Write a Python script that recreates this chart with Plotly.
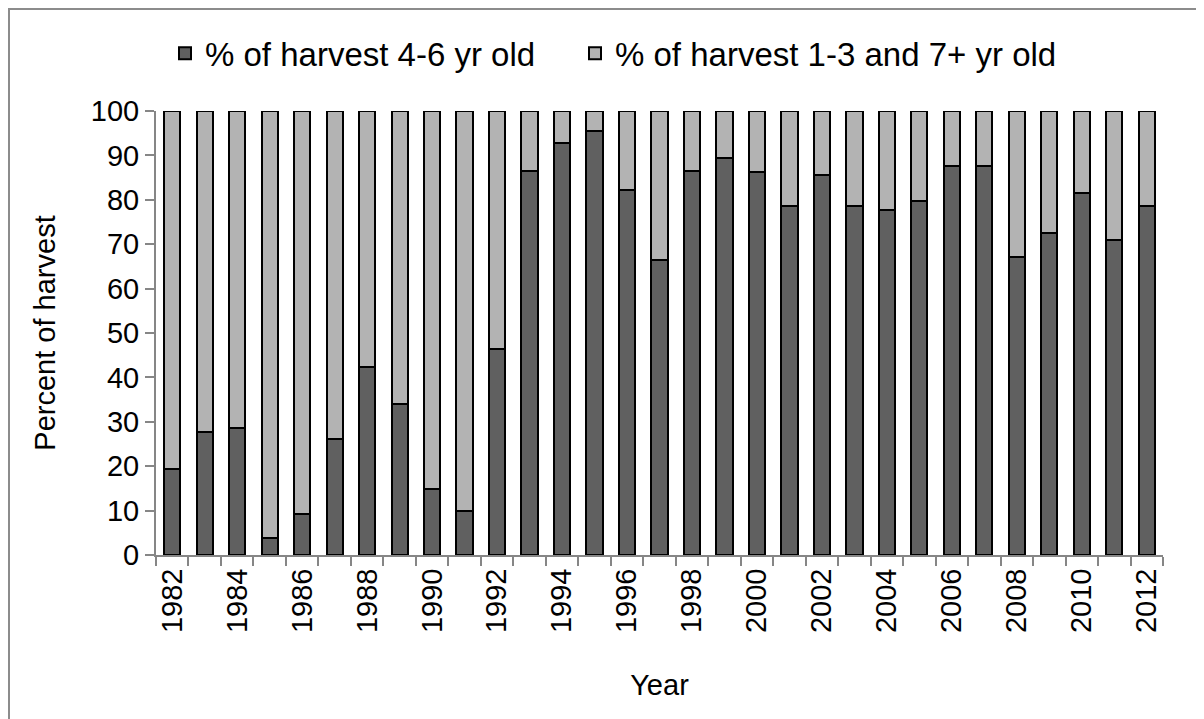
import plotly.graph_objects as go

years = list(range(1982, 2013))
pct_4_6 = [19.3, 27.7, 28.7, 3.8, 9.3, 26.1, 42.4, 34.0, 14.8, 9.8, 46.3,
           86.6, 92.8, 95.5, 82.3, 66.5, 86.6, 89.4, 86.2, 78.7, 85.6,
           78.7, 77.7, 79.8, 87.7, 87.7, 67.1, 72.6, 81.6, 71.0, 78.7]
pct_other = [round(100 - v, 1) for v in pct_4_6]
tick_years = [y for y in years if y % 2 == 0]

FONT = "Liberation Sans, Arial, sans-serif"
AXIS = "#868686"

W, H = 1196, 711
L, R, T, B = 148, 41, 103, 164
plot_w = W - L - R
plot_h = H - T - B

fig = go.Figure()
fig.add_trace(go.Bar(x=years, y=pct_4_6, name="% of harvest 4-6 yr old",
                     marker=dict(color="#606060", line=dict(color="black", width=2)),
                     width=0.5, legend="legend", showlegend=True))
fig.add_trace(go.Bar(x=years, y=pct_other, name="% of harvest 1-3 and 7+ yr old",
                     marker=dict(color="#b3b3b3", line=dict(color="black", width=2)),
                     width=0.5, legend="legend2", showlegend=True))

leg_common = dict(orientation="h", xanchor="left", y=1.13, yanchor="middle",
                  font=dict(size=33), itemwidth=30, bgcolor="rgba(0,0,0,0)",
                  visible=True)

fig.update_layout(
    barmode="stack",
    showlegend=True,
    width=W, height=H,
    margin=dict(l=L, r=R, t=T, b=B, autoexpand=False),
    paper_bgcolor="white", plot_bgcolor="white",
    font=dict(family=FONT, size=29, color="black"),
    legend=dict(x=(157 - L) / plot_w, **leg_common),
    legend2=dict(x=(567 - L) / plot_w, **leg_common),
    xaxis=dict(range=[1981.5, 2012.5], tickmode="array", tickvals=tick_years,
               ticktext=[str(y) for y in tick_years], tickangle=-90, ticks="",
               showline=True, linecolor=AXIS, linewidth=2, showgrid=False, zeroline=False,
               automargin=False,
               minor=dict(tickmode="linear", tick0=1981.5, dtick=1, ticks="outside",
                          ticklen=9, tickwidth=2, tickcolor=AXIS, showgrid=False),
               title=dict(text="Year", standoff=43, font=dict(size=29))),
    yaxis=dict(range=[0, 100], dtick=10, ticks="outside", ticklen=9, tickwidth=2,
               tickcolor=AXIS, showline=True, linecolor=AXIS, linewidth=2,
               showgrid=False, zeroline=False, automargin=False,
               title=dict(text="Percent of harvest", standoff=27, font=dict(size=29))),
    shapes=[dict(type="rect", xref="paper", yref="paper",
                 x0=(1 - L) / plot_w, x1=1.2, y0=-0.6, y1=(H - B - 1) / plot_h,
                 line=dict(color="#8c8c8c", width=2), layer="below")],
)

fig.write_html("out.html")
